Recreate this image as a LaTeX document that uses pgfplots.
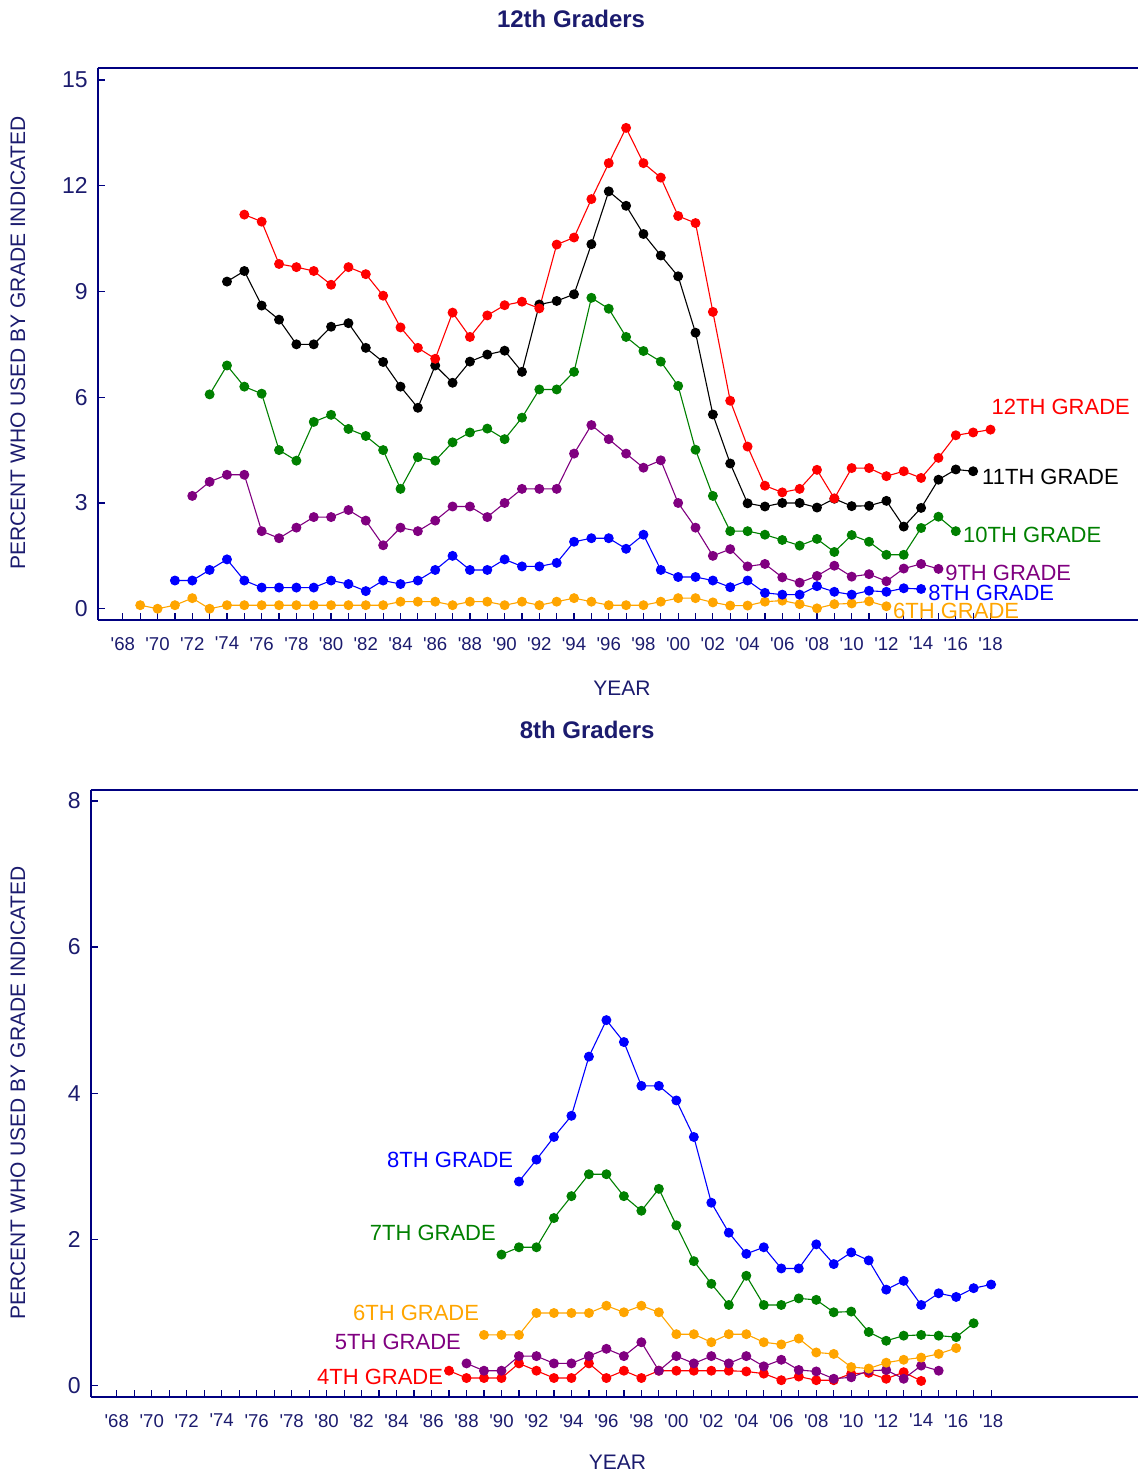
\documentclass[border=0pt]{standalone}
\usepackage{pgfplots}
\pgfplotsset{compat=1.18}
\usepackage{fontspec}
\setmainfont{Liberation Sans}[Ligatures=TeXOff]

\definecolor{axisnavy}{HTML}{000080}
\definecolor{txtnavy}{HTML}{1B1B6E}
\definecolor{gred}{HTML}{FF0000}
\definecolor{ggreen}{HTML}{008000}
\definecolor{gpurple}{HTML}{800080}
\definecolor{gblue}{HTML}{0000FF}
\definecolor{gorange}{HTML}{FFA500}

\tikzset{glabel/.style={font=\fontsize{11}{13}\selectfont, inner sep=0pt}}

\pgfplotsset{
  mtf/.style={
    scale only axis,
    axis x line*=box,
    axis y line*=left,
    tick align=inside,
    xtick pos=left, ytick pos=left,
    clip=false,
    axis line style={axisnavy, line width=0.9pt},
    tick style={axisnavy, line width=0.6pt},
    major tick length=3.5pt, minor tick length=3.5pt,
    xtick={1968,1970,...,2018},
    minor xtick={1969,1971,...,2017},
    xticklabels={'68,'70,'72,'74,'76,'78,'80,'82,'84,'86,'88,'90,'92,'94,'96,'98,'00,'02,'04,'06,'08,'10,'12,'14,'16,'18},
    /pgf/number format/assume math mode=true,
    xticklabel style={font=\fontsize{9.3}{11}\selectfont, text=txtnavy, yshift=-5pt},
    yticklabel style={font=\fontsize{11.5}{13}\selectfont, text=txtnavy, xshift=-1.5pt},
    title style={font=\fontsize{12}{14}\selectfont\bfseries, text=txtnavy, anchor=center, yshift=-6pt},
    label style={font=\fontsize{10.5}{12}\selectfont, text=txtnavy, anchor=center},
    ylabel={PERCENT WHO USED BY GRADE INDICATED},
    xlabel={YEAR},
    every axis plot/.append style={line width=0.55pt, mark=*, mark size=2.2pt},
  },
}

\begin{document}
\begin{tikzpicture}
\useasboundingbox (0,0) rectangle (569pt,-736.5pt);

% 12th graders
\begin{axis}[mtf,
  at={(48.85pt,-310pt)}, anchor=south west,
  width=520.15pt, height=275.85pt,
  xmin=1966.55, xmax=2026.5, ymin=-0.32, ymax=15.33,
  ytick={0,3,6,9,12,15},
  title={12th Graders},
  title style={at={(axis description cs:0.455,1.089)}},
  xlabel style={at={(axis description cs:0.504,-0.123)}},
  ylabel style={at={(axis description cs:-0.0766,0.502)}},
]
\addplot[gorange] coordinates {(1969,0.1) (1970,0.0) (1971,0.1) (1972,0.3) (1973,0.0) (1974,0.1) (1975,0.1) (1976,0.1) (1977,0.1) (1978,0.1) (1979,0.1) (1980,0.1) (1981,0.1) (1982,0.1) (1983,0.1) (1984,0.2) (1985,0.2) (1986,0.2) (1987,0.1) (1988,0.2) (1989,0.2) (1990,0.1) (1991,0.2) (1992,0.1) (1993,0.2) (1994,0.3) (1995,0.2) (1996,0.1) (1997,0.1) (1998,0.1) (1999,0.2) (2000,0.3) (2001,0.3) (2002,0.18) (2003,0.09) (2004,0.09) (2005,0.2) (2006,0.23) (2007,0.13) (2008,0.01) (2009,0.13) (2010,0.15) (2011,0.21) (2012,0.07)};
\addplot[gblue] coordinates {(1971,0.8) (1972,0.8) (1973,1.1) (1974,1.4) (1975,0.8) (1976,0.6) (1977,0.6) (1978,0.6) (1979,0.6) (1980,0.8) (1981,0.7) (1982,0.5) (1983,0.8) (1984,0.7) (1985,0.8) (1986,1.1) (1987,1.5) (1988,1.1) (1989,1.1) (1990,1.4) (1991,1.2) (1992,1.2) (1993,1.3) (1994,1.9) (1995,2.0) (1996,2.0) (1997,1.7) (1998,2.1) (1999,1.1) (2000,0.9) (2001,0.9) (2002,0.8) (2003,0.61) (2004,0.8) (2005,0.45) (2006,0.4) (2007,0.4) (2008,0.64) (2009,0.48) (2010,0.4) (2011,0.51) (2012,0.48) (2013,0.58) (2014,0.56)};
\addplot[gpurple] coordinates {(1972,3.2) (1973,3.6) (1974,3.8) (1975,3.8) (1976,2.2) (1977,2.0) (1978,2.3) (1979,2.6) (1980,2.6) (1981,2.8) (1982,2.5) (1983,1.8) (1984,2.3) (1985,2.2) (1986,2.5) (1987,2.9) (1988,2.9) (1989,2.6) (1990,3.0) (1991,3.4) (1992,3.4) (1993,3.4) (1994,4.4) (1995,5.21) (1996,4.81) (1997,4.4) (1998,4.0) (1999,4.21) (2000,3.0) (2001,2.3) (2002,1.5) (2003,1.69) (2004,1.2) (2005,1.27) (2006,0.89) (2007,0.74) (2008,0.93) (2009,1.22) (2010,0.91) (2011,0.98) (2012,0.78) (2013,1.14) (2014,1.27) (2015,1.13)};
\addplot[ggreen] coordinates {(1973,6.08) (1974,6.9) (1975,6.3) (1976,6.1) (1977,4.5) (1978,4.2) (1979,5.3) (1980,5.5) (1981,5.1) (1982,4.9) (1983,4.5) (1984,3.4) (1985,4.3) (1986,4.2) (1987,4.72) (1988,5.0) (1989,5.11) (1990,4.81) (1991,5.42) (1992,6.22) (1993,6.22) (1994,6.72) (1995,8.82) (1996,8.51) (1997,7.71) (1998,7.31) (1999,7.01) (2000,6.32) (2001,4.51) (2002,3.2) (2003,2.2) (2004,2.2) (2005,2.1) (2006,1.95) (2007,1.79) (2008,1.98) (2009,1.61) (2010,2.09) (2011,1.9) (2012,1.53) (2013,1.53) (2014,2.29) (2015,2.61) (2016,2.2)};
\addplot[black] coordinates {(1974,9.28) (1975,9.58) (1976,8.6) (1977,8.2) (1978,7.5) (1979,7.5) (1980,8.0) (1981,8.1) (1982,7.4) (1983,7.0) (1984,6.3) (1985,5.7) (1986,6.9) (1987,6.41) (1988,7.01) (1989,7.21) (1990,7.32) (1991,6.72) (1992,8.63) (1993,8.73) (1994,8.92) (1995,10.34) (1996,11.84) (1997,11.43) (1998,10.63) (1999,10.02) (2000,9.43) (2001,7.83) (2002,5.51) (2003,4.12) (2004,2.99) (2005,2.9) (2006,3.0) (2007,3.0) (2008,2.87) (2009,3.12) (2010,2.91) (2011,2.92) (2012,3.06) (2013,2.33) (2014,2.86) (2015,3.66) (2016,3.95) (2017,3.9)};
\addplot[gred] coordinates {(1975,11.18) (1976,10.98) (1977,9.78) (1978,9.69) (1979,9.58) (1980,9.19) (1981,9.69) (1982,9.49) (1983,8.88) (1984,7.98) (1985,7.4) (1986,7.09) (1987,8.4) (1988,7.71) (1989,8.32) (1990,8.61) (1991,8.71) (1992,8.52) (1993,10.33) (1994,10.53) (1995,11.62) (1996,12.64) (1997,13.64) (1998,12.64) (1999,12.23) (2000,11.14) (2001,10.94) (2002,8.42) (2003,5.9) (2004,4.6) (2005,3.49) (2006,3.3) (2007,3.4) (2008,3.94) (2009,3.13) (2010,3.99) (2011,3.99) (2012,3.76) (2013,3.9) (2014,3.71) (2015,4.28) (2016,4.92) (2017,5.0) (2018,5.08)};
\node[glabel, text=gred] at (axis cs:2022.05,5.72) {12TH GRADE};
\node[glabel, text=black, anchor=west] at (axis cs:2017.5,3.74) {11TH GRADE};
\node[glabel, text=ggreen, anchor=west] at (axis cs:2016.4,2.09) {10TH GRADE};
\node[glabel, text=gpurple, anchor=west] at (axis cs:2015.37,1.01) {9TH GRADE};
\node[glabel, text=gblue, anchor=west] at (axis cs:2014.39,0.44) {8TH GRADE};
\node[glabel, text=gorange, anchor=west] at (axis cs:2012.37,-0.07) {6TH GRADE};
\end{axis}

% 8th graders
\begin{axis}[mtf,
  at={(45.35pt,-698.5pt)}, anchor=south west,
  width=523.65pt, height=303.5pt,
  xmin=1966.51, xmax=2026.4, ymin=-0.16, ymax=8.15,
  ytick={0,2,4,6,8},
  title={8th Graders},
  title style={at={(axis description cs:0.474,1.099)}},
  xlabel style={at={(axis description cs:0.503,-0.107)}},
  ylabel style={at={(axis description cs:-0.0694,0.501)}},
]
\addplot[gred] coordinates {(1987,0.2) (1988,0.1) (1989,0.1) (1990,0.1) (1991,0.3) (1992,0.2) (1993,0.1) (1994,0.1) (1995,0.3) (1996,0.1) (1997,0.2) (1998,0.1) (1999,0.2) (2000,0.2) (2001,0.2) (2002,0.2) (2003,0.2) (2004,0.19) (2005,0.16) (2006,0.07) (2007,0.12) (2008,0.07) (2009,0.07) (2010,0.16) (2011,0.17) (2012,0.09) (2013,0.18) (2014,0.06)};
\addplot[gpurple] coordinates {(1988,0.3) (1989,0.2) (1990,0.2) (1991,0.4) (1992,0.4) (1993,0.3) (1994,0.3) (1995,0.4) (1996,0.5) (1997,0.4) (1998,0.59) (1999,0.2) (2000,0.4) (2001,0.3) (2002,0.4) (2003,0.3) (2004,0.4) (2005,0.26) (2006,0.35) (2007,0.21) (2008,0.19) (2009,0.09) (2010,0.11) (2011,0.2) (2012,0.21) (2013,0.09) (2014,0.27) (2015,0.2)};
\addplot[gorange] coordinates {(1989,0.69) (1990,0.69) (1991,0.69) (1992,0.99) (1993,0.99) (1994,0.99) (1995,0.99) (1996,1.09) (1997,1.0) (1998,1.09) (1999,1.0) (2000,0.7) (2001,0.7) (2002,0.59) (2003,0.7) (2004,0.7) (2005,0.59) (2006,0.56) (2007,0.64) (2008,0.45) (2009,0.43) (2010,0.25) (2011,0.23) (2012,0.31) (2013,0.35) (2014,0.38) (2015,0.43) (2016,0.51)};
\addplot[ggreen] coordinates {(1990,1.79) (1991,1.89) (1992,1.89) (1993,2.29) (1994,2.59) (1995,2.89) (1996,2.89) (1997,2.59) (1998,2.39) (1999,2.69) (2000,2.19) (2001,1.7) (2002,1.39) (2003,1.1) (2004,1.5) (2005,1.1) (2006,1.1) (2007,1.19) (2008,1.17) (2009,1.0) (2010,1.01) (2011,0.73) (2012,0.61) (2013,0.68) (2014,0.69) (2015,0.68) (2016,0.66) (2017,0.85)};
\addplot[gblue] coordinates {(1991,2.79) (1992,3.09) (1993,3.40) (1994,3.69) (1995,4.5) (1996,5.0) (1997,4.7) (1998,4.1) (1999,4.1) (2000,3.9) (2001,3.4) (2002,2.5) (2003,2.09) (2004,1.8) (2005,1.89) (2006,1.6) (2007,1.6) (2008,1.93) (2009,1.66) (2010,1.82) (2011,1.71) (2012,1.31) (2013,1.43) (2014,1.1) (2015,1.26) (2016,1.21) (2017,1.33) (2018,1.38)};
\node[glabel, text=gblue, anchor=east] at (axis cs:1990.69,3.08) {8TH GRADE};
\node[glabel, text=ggreen, anchor=east] at (axis cs:1989.70,2.09) {7TH GRADE};
\node[glabel, text=gorange, anchor=east] at (axis cs:1988.74,0.99) {6TH GRADE};
\node[glabel, text=gpurple, anchor=east] at (axis cs:1987.70,0.59) {5TH GRADE};
\node[glabel, text=gred, anchor=east] at (axis cs:1986.68,0.11) {4TH GRADE};
\end{axis}
\end{tikzpicture}
\end{document}
